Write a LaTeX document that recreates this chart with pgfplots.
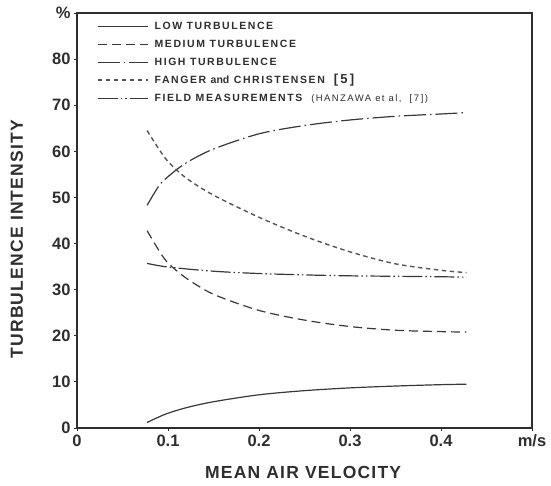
\documentclass[border=0pt]{standalone}
\usepackage{fontspec}
\setmainfont{Liberation Sans}
\newfontfamily\lblfont[LetterSpace=7]{Liberation Sans}
\newfontfamily\legfont[LetterSpace=15]{Liberation Sans}
\usepackage{pgfplots}
\pgfplotsset{compat=1.18}
\definecolor{ink}{HTML}{2E2E2E}
\definecolor{curve}{HTML}{383838}
\definecolor{fanger}{HTML}{555555}
\begin{document}
\begin{tikzpicture}
\path[use as bounding box] (-77pt,-58pt) rectangle (474pt,428pt);
\begin{axis}[
  scale only axis, width=455pt, height=415pt,
  xmin=0, xmax=0.5, ymin=0, ymax=90,
  xtick={0,0.1,0.2,0.3,0.4,0.5}, xticklabels={0,0.1,0.2,0.3,0.4,m/s},
  ytick={0,10,20,30,40,50,60,70,80,90}, yticklabels={0,10,20,30,40,50,60,70,80,\%},
  /pgf/number format/assume math mode=true,
  tick align=outside, tick pos=left, major tick length=3pt,
  tick style={ink, line width=0.8pt},
  axis line style={ink, line width=1.6pt},
  ticklabel style={font=\fontsize{16.5}{18}\selectfont\bfseries, text=ink},
  xlabel={MEAN AIR VELOCITY},
  xlabel style={at={(axis description cs:0.497,-0.106)}, anchor=center, font=\fontsize{17.5}{20}\selectfont\lblfont\bfseries, text=ink},
  ylabel={TURBULENCE INTENSITY},
  ylabel style={at={(axis description cs:-0.132,0.455)}, anchor=center, font=\fontsize{17.5}{20}\selectfont\lblfont\bfseries, text=ink},
  legend cell align=left,
  legend image code/.code={\draw[#1] (0pt,0pt) -- (50pt,0pt);},
  legend style={at={(axis description cs:0,1)}, anchor=north west, xshift=20pt, yshift=-7pt,
    draw=none, fill=none, inner sep=0pt, row sep=6pt, column sep=5pt,
    nodes={text height=8pt, text depth=2pt, inner sep=1pt},
    font=\fontsize{10.5}{12}\selectfont\legfont\bfseries, text=ink},
]
\addplot[curve, line width=1.2pt, smooth] coordinates {
 (0.077,1.2) (0.09,2.4) (0.1,3.2) (0.12,4.4) (0.15,5.7) (0.2,7.2) (0.25,8.1) (0.3,8.7) (0.35,9.1) (0.4,9.4) (0.428,9.5)};
\addlegendentry{LOW TURBULENCE}
\addplot[curve, line width=1.2pt, smooth, dash pattern=on 9pt off 5pt] coordinates {
 (0.077,42.8) (0.09,38.5) (0.1,35.8) (0.12,32.5) (0.15,29.0) (0.2,25.5) (0.25,23.4) (0.3,22.0) (0.35,21.2) (0.4,20.9) (0.428,20.8)};
\addlegendentry{MEDIUM TURBULENCE}
\addplot[curve, line width=1.2pt, smooth, dash pattern=on 22pt off 4pt on 1.5pt off 4pt] coordinates {
 (0.077,48.3) (0.09,52.5) (0.1,54.5) (0.12,57.5) (0.15,60.5) (0.2,63.8) (0.25,65.6) (0.3,66.8) (0.35,67.6) (0.4,68.1) (0.428,68.4)};
\addlegendentry{HIGH TURBULENCE}
\addplot[fanger, line width=1.4pt, smooth, dash pattern=on 4.5pt off 3.5pt] coordinates {
 (0.077,64.5) (0.09,60.5) (0.1,57.8) (0.12,54.2) (0.15,50.5) (0.2,45.7) (0.25,41.6) (0.3,38.2) (0.35,35.6) (0.4,34.2) (0.428,33.7)};
\addlegendentry{FANGER {\fontspec{Liberation Sans}\bfseries and} CHRISTENSEN\ \ {\fontsize{13}{14}\selectfont[\,5\,]}}
\addplot[curve, line width=1.2pt, smooth, dash pattern=on 20pt off 3pt on 1.5pt off 3pt on 1.5pt off 3pt] coordinates {
 (0.077,35.7) (0.1,34.9) (0.15,34.0) (0.2,33.5) (0.25,33.2) (0.3,33.0) (0.35,32.9) (0.4,32.8) (0.428,32.7)};
\addlegendentry{FIELD MEASUREMENTS\ \ {\fontsize{9.5}{11}\selectfont\mdseries (HANZAWA et al,\ \ [\,7\,])}}
\end{axis}
\end{tikzpicture}
\end{document}
